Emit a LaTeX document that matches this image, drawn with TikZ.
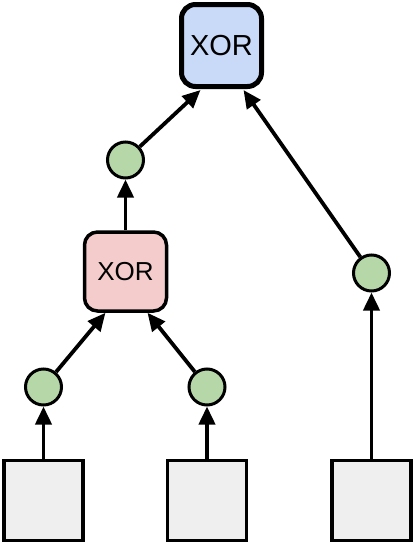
\documentclass[tikz,border=0pt]{standalone}
\usepackage{fontspec}
\setmainfont{Liberation Sans}
\usetikzlibrary{arrows.meta}
\definecolor{xblue}{HTML}{C9DAF8}
\definecolor{xpink}{HTML}{F4CCCC}
\definecolor{xgreen}{HTML}{B6D7A8}
\definecolor{xgray}{HTML}{EFEFEF}
\begin{document}
\begin{tikzpicture}[x=1pt,y=-1pt,
  topbox/.style={draw,fill=xblue,line width=5pt,rounded corners=14pt,minimum width=80pt,minimum height=82pt,inner sep=0pt,font=\fontsize{29}{31}\selectfont},
  midbox/.style={draw,fill=xpink,line width=3.5pt,rounded corners=13pt,minimum width=82pt,minimum height=79pt,inner sep=0pt,font=\fontsize{26}{28}\selectfont},
  dot/.style={circle,draw,fill=xgreen,line width=3pt,minimum size=36pt,inner sep=0pt},
  leaf/.style={draw,fill=xgray,line width=3.5pt,minimum width=79pt,minimum height=80pt,inner sep=0pt},
  arr/.style={line width=3.8pt,-{Triangle[width=16pt,length=18pt]}}]
\useasboundingbox (0,0) rectangle (415,544);
\node[topbox] (top) at (221.5,45.5) {XOR};
\node[midbox] (mid) at (125.5,271.5) {XOR};
\node[dot] (c1) at (125.5,160) {};
\node[dot] (c2) at (43.5,387) {};
\node[dot] (c3) at (207,387) {};
\node[dot] (c4) at (371.5,273) {};
\node[leaf] (s1) at (43.5,500.5) {};
\node[leaf] (s2) at (207,500.5) {};
\node[leaf] (s3) at (371.5,500.5) {};
\draw[arr] (s1) -- (c2);
\draw[arr] (s2) -- (c3);
\draw[arr] (s3) -- (c4);
\draw[arr] (c2) -- ([xshift=-20pt]mid.south);
\draw[arr] (c3) -- ([xshift=22pt]mid.south);
\draw[arr] (mid) -- (c1);
\draw[arr] (c1) -- ([xshift=-21pt,yshift=-1pt]top.south);
\draw[arr] (c4) -- ([xshift=22pt,yshift=-1pt]top.south);
\end{tikzpicture}
\end{document}
